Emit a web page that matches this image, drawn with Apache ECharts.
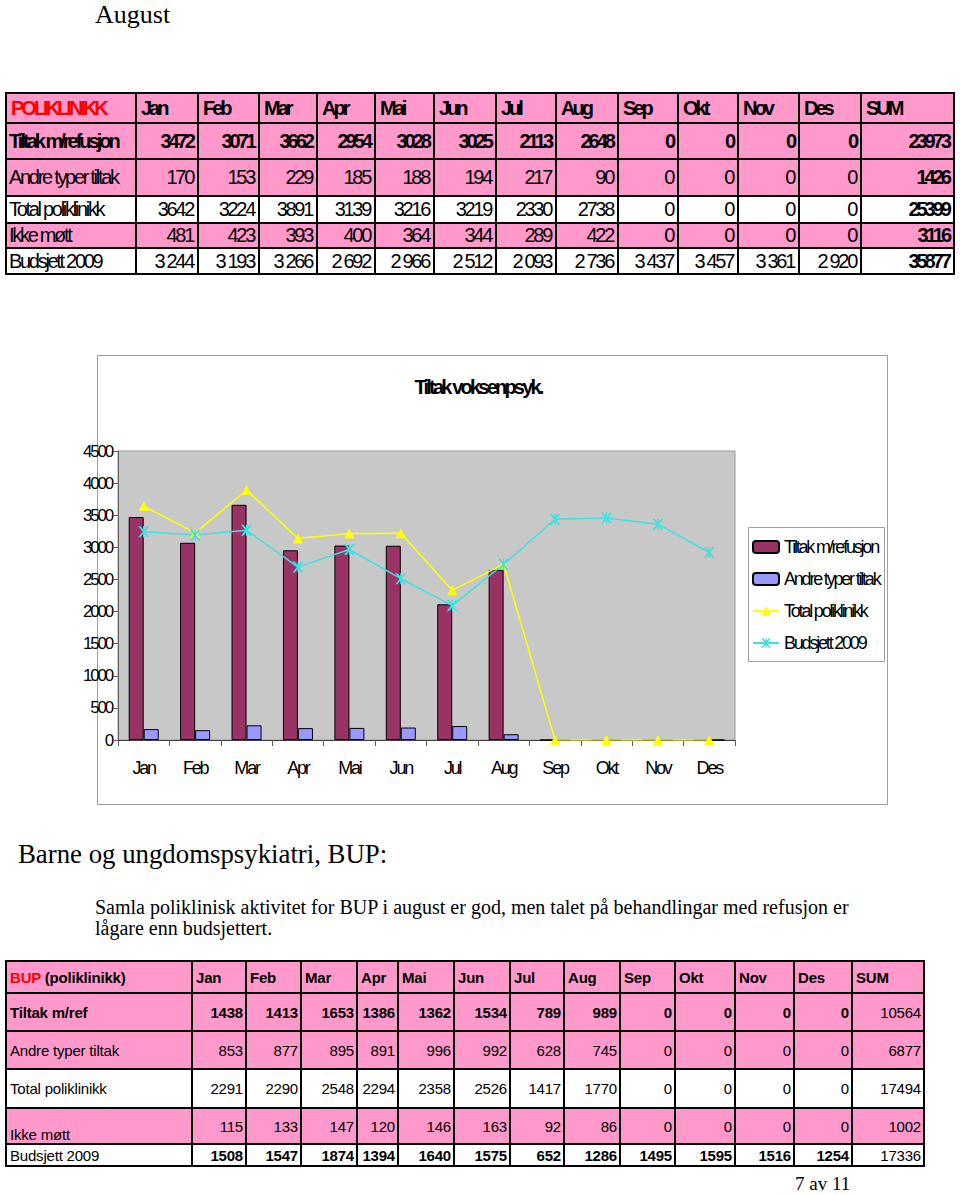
<!DOCTYPE html>
<html>
<head>
<meta charset="utf-8">
<script src="https://cdn.jsdelivr.net/npm/echarts@6/dist/echarts.min.js"></script>
<style>
  html, body { margin: 0; padding: 0; background: #fff; }
  #page { position: relative; width: 960px; height: 1194px; overflow: hidden; }
  .serif { position: absolute; font-family: 'Liberation Serif', 'Times New Roman', serif; color: #000; white-space: nowrap; }
  table { position: absolute; border-collapse: collapse; table-layout: fixed; font-family: 'Liberation Sans', Arial, sans-serif; color: #000; }
  td { border: 2px solid #000; white-space: nowrap; overflow: hidden; padding: 0; }
  .pink td { background: #FF99CC; }
  .white td { background: #fff; }
  #t1 { left: 5px; top: 92px; font-size: 20px; letter-spacing: -2.3px; }
  #t1 td { text-align: right; padding-right: 4px; }
  #t1 td.lab { text-align: left; padding-left: 2px; }
  #t1 td.b { font-weight: bold; letter-spacing: -3px; }
  #t1 tr.hdr td { text-align: left; padding-left: 4px; font-weight: bold; letter-spacing: -3px; }
  #t2 { left: 5px; top: 960px; font-size: 15px; letter-spacing: -0.2px; }
  #t2 td { text-align: right; padding-right: 2px; }
  #t2 td.lab { text-align: left; padding-left: 3px; }
  #t2 td.b { font-weight: bold; }
  #t2 tr.hdr td { text-align: left; padding-left: 3px; font-weight: bold; }
  #t2 td.bottom { vertical-align: bottom; }
  .red { color: #FF0000; }
  #chart { position: absolute; left: 57px; top: 355px; width: 835px; height: 451px; }
  #chart svg text { letter-spacing: -2.2px; }
  #chart svg text[style*="bold"] { letter-spacing: -2.8px; }
</style>
</head>
<body>
<div id="page">
  <div class="serif" style="left:95px; top:0px; font-size:26px; line-height:29px;">August</div>
  <table id="t1"></table>
  <div id="chart"></div>
  <div class="serif" style="left:18px; top:839px; font-size:26.8px; line-height:30px;">Barne og ungdomspsykiatri, BUP:</div>
  <div class="serif" style="left:95px; top:897px; font-size:20px; line-height:21px;">Samla poliklinisk aktivitet for BUP i august er god, men talet på behandlingar med refusjon er<br>lågare enn budsjettert.</div>
  <table id="t2"></table>
  <div class="serif" style="left:795px; top:1174px; font-size:19px; line-height:19px;">7 av 11</div>
</div>
<script>
// ---------- Data ----------
const months = ['Jan','Feb','Mar','Apr','Mai','Jun','Jul','Aug','Sep','Okt','Nov','Des'];
const rowNames = ['Tiltak m/refusjon','Andre typer tiltak','Total poliklinikk','Ikke møtt','Budsjett 2009'];

// Voksenpsykiatri (POLIKLINIKK)
const vpTiltakRef = [3472,3071,3662,2954,3028,3025,2113,2648,0,0,0,0];
const vpAndre     = [170,153,229,185,188,194,217,90,0,0,0,0];
const vpTotal     = [3642,3224,3891,3139,3216,3219,2330,2738,0,0,0,0];
const vpIkkeMott  = [481,423,393,400,364,344,289,422,0,0,0,0];
const vpBudsjett  = [3244,3193,3266,2692,2966,2512,2093,2736,3437,3457,3361,2920];
const vpSums      = [23973,1426,25399,3116,35877];

// BUP (poliklinikk)
const bupRowNames = ['Tiltak m/ref','Andre typer tiltak','Total poliklinikk','Ikke møtt','Budsjett 2009'];
const bupTiltakRef = [1438,1413,1653,1386,1362,1534,789,989,0,0,0,0];
const bupAndre     = [853,877,895,891,996,992,628,745,0,0,0,0];
const bupTotal     = [2291,2290,2548,2294,2358,2526,1417,1770,0,0,0,0];
const bupIkkeMott  = [115,133,147,120,146,163,92,86,0,0,0,0];
const bupBudsjett  = [1508,1547,1874,1394,1640,1575,652,1286,1495,1595,1516,1254];
const bupSums      = [10564,6877,17494,1002,17336];

// ---------- Tables ----------
function spaced(n){ return String(n).replace(/\B(?=(\d{3})+(?!\d))/g, ' '); }

function buildTop(){
  const widths = [130,62,61,58,58,59,62,60,62,60,60,61,62,93];
  const heights = [30,36,37,27,25,26];
  const t = document.getElementById('t1');
  let h = '<colgroup>' + widths.map(w => '<col style="width:' + w + 'px">').join('') + '</colgroup>';
  h += '<tr class="pink hdr" style="height:' + heights[0] + 'px"><td class="lab"><span class="red">POLIKLINIKK</span></td>' +
       months.map(m => '<td>' + m + '</td>').join('') + '<td>SUM</td></tr>';
  const rows = [vpTiltakRef, vpAndre, vpTotal, vpIkkeMott, vpBudsjett];
  const cls = ['pink','pink','white','pink','white'];
  rows.forEach((r, i) => {
    const allBold = i === 0;
    h += '<tr class="' + cls[i] + '" style="height:' + heights[i+1] + 'px">';
    h += '<td class="lab' + (allBold ? ' b' : '') + '">' + rowNames[i] + '</td>';
    r.forEach(v => {
      const txt = (i === 4) ? spaced(v) : String(v);
      h += '<td' + (allBold ? ' class="b"' : '') + '>' + txt + '</td>';
    });
    h += '<td class="b">' + vpSums[i] + '</td></tr>';
  });
  t.innerHTML = h;
}

function buildBottom(){
  const widths = [186,54,55,56,41,56,56,54,56,55,60,59,58,72];
  const heights = [32,38,38,39,36,22];
  const t = document.getElementById('t2');
  let h = '<colgroup>' + widths.map(w => '<col style="width:' + w + 'px">').join('') + '</colgroup>';
  h += '<tr class="pink hdr" style="height:' + heights[0] + 'px"><td class="lab"><span class="red">BUP</span> (poliklinikk)</td>' +
       months.map(m => '<td>' + m + '</td>').join('') + '<td>SUM</td></tr>';
  const rows = [bupTiltakRef, bupAndre, bupTotal, bupIkkeMott, bupBudsjett];
  const cls = ['pink','pink','white','pink','white'];
  rows.forEach((r, i) => {
    h += '<tr class="' + cls[i] + '" style="height:' + heights[i+1] + 'px">';
    let lc = 'lab';
    if (i === 0) lc += ' b';
    if (i === 3) lc += ' bottom';
    h += '<td class="' + lc + '">' + bupRowNames[i] + '</td>';
    const valBold = (i === 0 || i === 4);
    r.forEach(v => { h += '<td' + (valBold ? ' class="b"' : '') + '>' + v + '</td>'; });
    h += '<td>' + bupSums[i] + '</td></tr>';
  });
  t.innerHTML = h;
}
buildTop();
buildBottom();

// ---------- Chart ----------
const FONT = "'Liberation Sans', Arial, sans-serif";
const xMark = 'path://M0,0 L2,0 L5,3.5 L8,0 L10,0 L6,5 L10,10 L8,10 L5,6.5 L2,10 L0,10 L4,5 Z M4.4,0 L5.6,0 L5.6,10 L4.4,10 Z';
const chart = echarts.init(document.getElementById('chart'), null, { renderer: 'svg' });
chart.setOption({
  animation: false,
  textStyle: { fontFamily: FONT, color: '#000' },
  graphic: [
    { type: 'rect', shape: { x: 40.5, y: 0.5, width: 790, height: 449 }, style: { fill: 'none', stroke: '#a0a0a0', lineWidth: 1 }, z: -10 },
    { type: 'rect', shape: { x: 691.5, y: 172.5, width: 136, height: 134 }, style: { fill: '#fff', stroke: '#a0a0a0', lineWidth: 1 }, z: -5 },
    { type: 'text', x: 421, y: 32, style: { text: 'Tiltak voksenpsyk.', fill: '#000', font: 'bold 20px ' + FONT, textAlign: 'center', textVerticalAlign: 'middle' } }
  ],
  grid: { left: 61, top: 96, width: 617, height: 289, show: true, backgroundColor: '#C8C8C8', borderColor: '#9a9a9a', borderWidth: 1, containLabel: false, outerBoundsMode: 'none' },
  legend: {
    orient: 'vertical', left: 695, top: 183, itemWidth: 26, itemHeight: 12, itemGap: 14, padding: 0,
    textStyle: { fontSize: 18, color: '#000', fontFamily: FONT },
    data: rowNames.filter((n, i) => i !== 3)
  },
  xAxis: {
    type: 'category', data: months, boundaryGap: true,
    axisLine: { lineStyle: { color: '#404040', width: 1 } },
    axisTick: { show: true, interval: 0, length: 6, lineStyle: { color: '#606060' } },
    axisLabel: { fontSize: 18, color: '#000', margin: 19, interval: 0, fontFamily: FONT }
  },
  yAxis: {
    type: 'value', min: 0, max: 4500, interval: 500,
    splitLine: { show: false },
    axisLine: { show: true, lineStyle: { color: '#606060' } },
    axisTick: { show: true, length: 4, lineStyle: { color: '#606060' } },
    axisLabel: { fontSize: 17, color: '#000', margin: 6, fontFamily: FONT, formatter: v => String(v) }
  },
  series: [
    { name: rowNames[0], type: 'bar', data: vpTiltakRef, barWidth: 15, barGap: '0%',
      itemStyle: { color: '#993366', borderColor: '#000', borderWidth: 1 } },
    { name: rowNames[1], type: 'bar', data: vpAndre, barWidth: 15, barGap: '0%',
      itemStyle: { color: '#9999FF', borderColor: '#000', borderWidth: 1 } },
    { name: rowNames[2], type: 'line', data: vpTotal, symbol: 'triangle', symbolSize: 10,
      lineStyle: { color: '#FFFF00', width: 1.5 }, itemStyle: { color: '#FFFF00' } },
    { name: rowNames[4], type: 'line', data: vpBudsjett, symbol: xMark, symbolSize: 11,
      lineStyle: { color: '#40E0E0', width: 1.5 }, itemStyle: { color: '#40E0E0' } }
  ]
});
</script>
</body>
</html>
